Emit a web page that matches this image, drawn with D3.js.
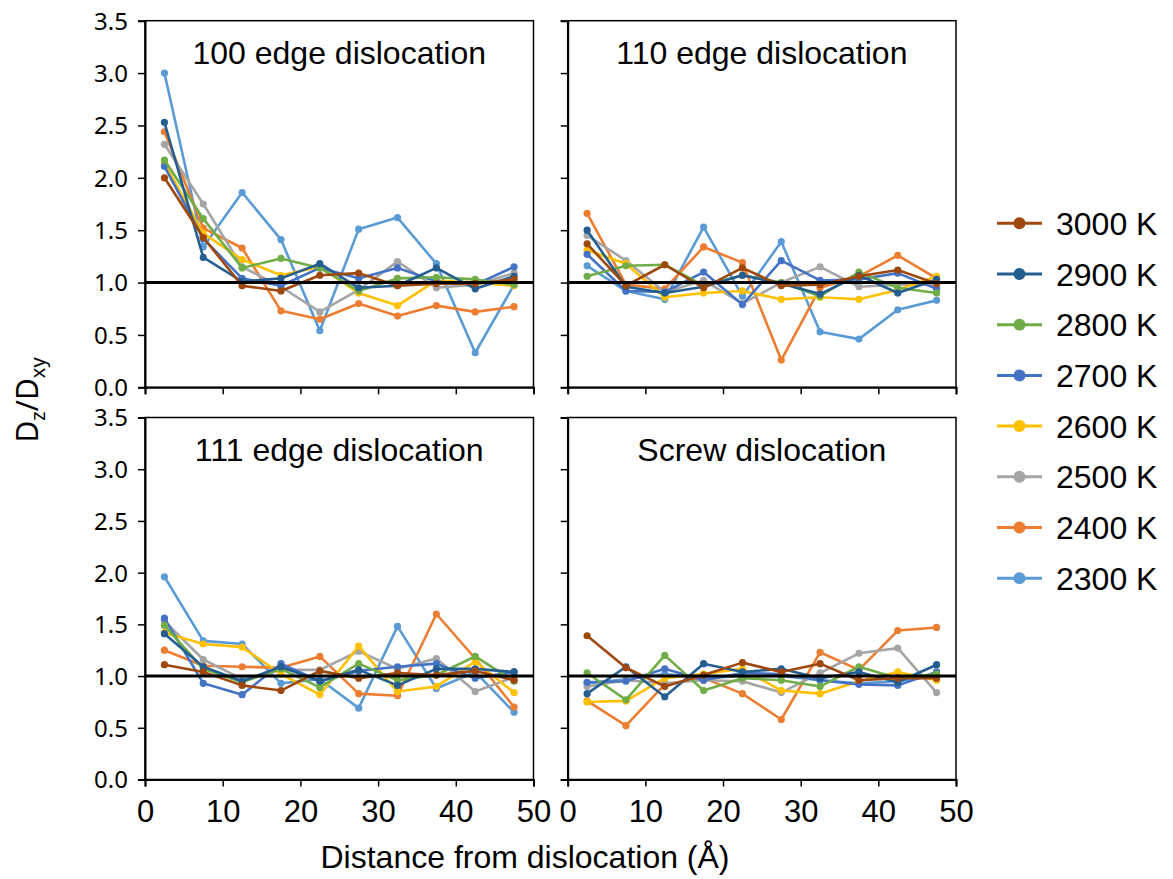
<!DOCTYPE html>
<html>
<head>
  <meta charset="utf-8">
  <style>
    body { margin: 0; background: #fff; }
    svg text { font-family: "Liberation Sans", Arial, sans-serif; fill: #000; }
    .ytick text { font-family: "Noto Sans", sans-serif; }
  </style>
</head>
<body>
  <svg id="chart" width="1173" height="879"></svg>
  <script src="https://d3js.org/d3.v7.min.js"></script>
  <script>

    // DATA
    var temps = ['3000 K', '2900 K', '2800 K', '2700 K', '2600 K', '2500 K', '2400 K', '2300 K'];
    var colors = ['#9E480E', '#255E91', '#70AD47', '#4472C4', '#FFC000', '#A5A5A5', '#ED7D31', '#5B9BD5'];
    var distances = [2.5, 7.5, 12.5, 17.5, 22.5, 27.5, 32.5, 37.5, 42.5, 47.5];
    var xTicks = [0, 10, 20, 30, 40, 50];
    var yTicks = [0, 0.5, 1, 1.5, 2, 2.5, 3, 3.5];

    var edge100 = [
      [2.00, 1.43, 0.97, 0.92, 1.07, 1.09, 0.97, 0.99, 0.99, 1.03],
      [2.53, 1.24, 1.01, 1.04, 1.18, 0.95, 0.97, 1.14, 0.94, 1.06],
      [2.17, 1.61, 1.14, 1.23, 1.14, 0.92, 1.04, 1.05, 1.03, 0.98],
      [2.11, 1.42, 1.04, 0.97, 1.14, 1.04, 1.14, 1.01, 0.98, 1.15],
      [2.14, 1.47, 1.22, 1.07, 1.15, 0.90, 0.78, 1.02, 1.00, 0.97],
      [2.32, 1.75, 1.15, 0.96, 0.72, 0.93, 1.20, 0.95, 0.98, 1.09],
      [2.44, 1.52, 1.33, 0.73, 0.65, 0.80, 0.68, 0.78, 0.72, 0.77],
      [3.00, 1.34, 1.86, 1.41, 0.54, 1.51, 1.62, 1.18, 0.33, 0.98]
    ];

    var edge110 = [
      [1.37, 0.97, 1.17, 0.95, 1.14, 0.97, 0.98, 1.06, 1.12, 0.99],
      [1.50, 0.96, 0.90, 0.96, 1.07, 0.99, 0.89, 1.07, 0.90, 1.03],
      [1.06, 1.16, 1.17, 0.97, 1.07, 1.00, 0.87, 1.10, 0.95, 0.90],
      [1.27, 0.92, 0.91, 1.10, 0.79, 1.21, 1.02, 1.03, 1.09, 0.94],
      [1.31, 1.18, 0.86, 0.90, 0.92, 0.84, 0.86, 0.84, 0.93, 1.06],
      [1.45, 1.21, 0.91, 1.02, 0.80, 1.00, 1.15, 0.96, 0.98, 0.98],
      [1.66, 0.98, 0.94, 1.34, 1.19, 0.26, 0.95, 1.06, 1.26, 1.04],
      [1.16, 0.92, 0.84, 1.53, 0.87, 1.39, 0.53, 0.46, 0.74, 0.83]
    ];

    var edge111 = [
      [1.11, 1.04, 0.91, 0.86, 1.05, 0.98, 1.03, 1.01, 1.05, 0.96],
      [1.41, 1.09, 0.95, 1.09, 0.95, 1.06, 0.91, 1.07, 1.07, 1.04],
      [1.49, 1.07, 0.94, 1.07, 0.89, 1.12, 0.96, 1.01, 1.19, 0.95],
      [1.56, 0.93, 0.82, 1.12, 0.95, 1.05, 1.09, 1.12, 0.98, 1.04],
      [1.42, 1.31, 1.28, 1.02, 0.82, 1.29, 0.85, 0.90, 1.14, 0.84],
      [1.53, 1.16, 0.97, 1.06, 1.06, 1.24, 1.07, 1.17, 0.85, 0.99],
      [1.25, 1.10, 1.09, 1.08, 1.19, 0.83, 0.81, 1.60, 1.17, 0.70],
      [1.96, 1.34, 1.31, 0.93, 0.97, 0.69, 1.48, 0.88, 1.04, 0.65]
    ];

    var screw = [
      [1.39, 1.08, 0.90, 1.01, 1.13, 1.04, 1.12, 0.96, 0.98, 0.98],
      [0.83, 1.09, 0.80, 1.12, 1.04, 1.07, 0.98, 1.04, 0.94, 1.11],
      [1.03, 0.77, 1.20, 0.86, 0.98, 0.96, 0.90, 1.09, 0.98, 1.02],
      [0.94, 0.95, 1.07, 0.96, 1.03, 1.02, 0.96, 0.92, 0.91, 1.04],
      [0.75, 0.76, 0.98, 1.02, 1.07, 0.86, 0.83, 0.95, 1.04, 0.96],
      [0.90, 0.96, 0.93, 0.96, 0.95, 0.84, 1.03, 1.22, 1.27, 0.84],
      [0.76, 0.52, 0.92, 0.98, 0.83, 0.58, 1.23, 1.06, 1.44, 1.47],
      [0.93, 0.97, 1.02, 0.98, 1.00, 1.00, 0.96, 0.93, 0.95, 1.00]
    ];

    // LAYOUT
    var svg = d3.select('#chart');

    var cols = [[145, 533.5], [567.7, 956]];
    var rows = [[20.7, 387.3], [417.5, 779.5]];

    var panels = [
      { title: '100 edge dislocation', data: edge100, col: 0, row: 0 },
      { title: '110 edge dislocation', data: edge110, col: 1, row: 0 },
      { title: '111 edge dislocation', data: edge111, col: 0, row: 1 },
      { title: 'Screw dislocation', data: screw, col: 1, row: 1 }
    ];

    panels.forEach(function(p) {
      var x = d3.scaleLinear().domain([0, 50]).range(cols[p.col]);
      var y = d3.scaleLinear().domain([0, 3.5]).range([rows[p.row][1], rows[p.row][0]]);

      var g = svg.append('g');

      // frame
      g.append('rect')
        .attr('x', x(0)).attr('y', y(3.5))
        .attr('width', x(50) - x(0)).attr('height', y(0) - y(3.5))
        .attr('fill', 'none').attr('stroke', '#000').attr('stroke-width', 1.5);

      var xAxis = g.append('g')
        .attr('transform', `translate(0,${y(0)})`)
        .call(d3.axisBottom(x).tickValues(xTicks).tickSize(7)
          .tickFormat(p.row === 1 ? d3.format('d') : ''));
      xAxis.select('.domain').attr('stroke-width', 2);
      xAxis.selectAll('.tick line').attr('stroke-width', 1.5);
      xAxis.selectAll('text')
        .attr('font-size', 31)
        .attr('dy', null)
        .attr('y', 42);

      var yAxis = g.append('g')
        .attr('class', 'ytick')
        .attr('transform', `translate(${x(0)},0)`)
        .call(d3.axisLeft(y).tickValues(yTicks).tickSize(7)
          .tickFormat(p.col === 0 ? d3.format('.1f') : ''));
      yAxis.select('.domain').attr('stroke-width', 2);
      yAxis.selectAll('.tick line').attr('stroke-width', 1.5);
      yAxis.selectAll('text')
        .attr('font-size', 24)
        .attr('x', -17)
        .attr('dy', '0.35em');

      g.selectAll('.domain, .tick line').attr('stroke', '#000');

      var line = d3.line()
        .x(function(d, i) { return x(distances[i]); })
        .y(function(d) { return y(d); });

      // draw the 2300 K series first so 3000 K lies on top
      var order = d3.range(temps.length).reverse();

      order.forEach(function(s) {
        var series = p.data[s];
        g.append('path')
          .datum(series)
          .attr('d', line)
          .attr('fill', 'none')
          .attr('stroke', colors[s])
          .attr('stroke-width', 2.6)
          .attr('stroke-linejoin', 'round');

        g.selectAll(null)
          .data(series)
          .enter()
            .append('circle')
              .attr('cx', function(d, i) { return x(distances[i]); })
              .attr('cy', function(d) { return y(d); })
              .attr('r', 3.6)
              .attr('fill', colors[s]);
      });

      // reference line at 1
      g.append('line')
        .attr('x1', x(0)).attr('x2', x(50))
        .attr('y1', y(1)).attr('y2', y(1))
        .attr('stroke', '#000').attr('stroke-width', 3);

      g.append('text')
        .attr('x', (x(0) + x(50)) / 2)
        .attr('y', y(3.5) + 43)
        .attr('text-anchor', 'middle')
        .attr('font-size', 32)
        .text(p.title);
    });

    // axis titles
    svg.append('text')
      .attr('x', 525)
      .attr('y', 868)
      .attr('text-anchor', 'middle')
      .attr('font-size', 32)
      .text('Distance from dislocation (Å)');

    var yLabel = svg.append('text')
      .attr('transform', 'translate(38,400) rotate(-90)')
      .attr('text-anchor', 'middle')
      .attr('font-size', 30)
      .style('font-family', '"Noto Sans", sans-serif');
    yLabel.append('tspan').text('D');
    yLabel.append('tspan').attr('font-size', 20).attr('dy', 7).text('z');
    yLabel.append('tspan').attr('dy', -7).text('/D');
    yLabel.append('tspan').attr('font-size', 20).attr('dy', 7).text('xy');

    // LEGEND
    var legend = svg.append('g');

    var item = legend.selectAll('.item')
      .data(temps)
      .enter()
        .append('g')
          .attr('class', 'item')
          .attr('transform', function(d, i) { return `translate(0,${223.3 + i * 50.7})`; });

    item.append('line')
      .attr('x1', 997).attr('x2', 1042)
      .attr('stroke', function(d, i) { return colors[i]; })
      .attr('stroke-width', 3);

    item.append('circle')
      .attr('cx', 1019.5)
      .attr('r', 6)
      .attr('fill', function(d, i) { return colors[i]; });

    item.append('text')
      .attr('x', 1056)
      .attr('y', 11.5)
      .attr('font-size', 32)
      .text(function(d) { return d; });
  </script>
</body>
</html>
